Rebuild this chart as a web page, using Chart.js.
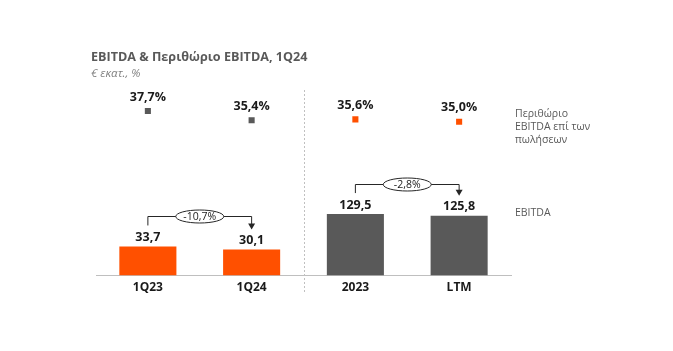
<!DOCTYPE html>
<html>
<head>
  <meta charset="UTF-8">
  <title>EBITDA & Περιθώριο EBITDA, 1Q24</title>
  <script src="https://cdn.jsdelivr.net/npm/chart.js@4.4.1/dist/chart.umd.min.js"></script>
  <style>
    body { margin: 0; background: #fff; font-family: "Open Sans", sans-serif; }
    #wrap { position: relative; width: 673px; height: 351px; }
    .txt { position: absolute; white-space: nowrap; }
    #title { left: 91px; top: 48px; font-size: 12.6px; font-weight: 700; color: #595959; }
    #sub { left: 91px; top: 65px; font-size: 11.5px; font-style: italic; color: #7f7f7f; }
    .side { left: 515px; font-size: 10.5px; color: #595959; line-height: 13px; }
  </style>
</head>
<body>
  <div id="wrap">
    <canvas id="ebitdaChart" width="673" height="351"></canvas>
    <div class="txt" id="title">EBITDA &amp; Περιθώριο EBITDA, 1Q24</div>
    <div class="txt" id="sub">€ εκατ., %</div>
    <div class="txt side" style="top:107px">Περιθώριο<br>EBITDA επί των<br>πωλήσεων</div>
    <div class="txt side" style="top:206px">EBITDA</div>
  </div>

  <script>
    const periods = ['1Q23', '1Q24', '2023', 'LTM'];
    const quarterEbitda = [33.7, 30.1, null, null];   // € εκατ.
    const annualEbitda = [null, null, 129.5, 125.8];  // € εκατ.
    const margins = [37.7, 35.4, 35.6, 35.0];         // %
    const changes = ['-10,7%', '-2,8%'];              // 1Q23→1Q24, 2023→LTM

    const ORANGE = '#ff5000';
    const GREY = '#595959';
    const fmt = v => v.toFixed(1).replace('.', ',');

    // labels, separator and change brackets
    const overlay = {
      id: 'overlay',
      afterDatasetsDraw(chart) {
        const ctx = chart.ctx;
        const x = chart.scales.x;
        const area = chart.chartArea;
        ctx.save();

        // dashed separator between quarters and years
        const sepX = Math.round((x.getPixelForValue(1) + x.getPixelForValue(2)) / 2) + 0.5;
        ctx.strokeStyle = '#c0c0c0';
        ctx.lineWidth = 1;
        ctx.setLineDash([2, 2]);
        ctx.beginPath();
        ctx.moveTo(sepX, area.top);
        ctx.lineTo(sepX, area.bottom + 17);
        ctx.stroke();
        ctx.setLineDash([]);

        ctx.textAlign = 'center';
        ctx.textBaseline = 'middle';
        ctx.fillStyle = '#1a1a1a';
        ctx.font = 'bold 12.5px "Open Sans"';

        // bar values
        const tops = [];
        [0, 1].forEach(di => {
          chart.getDatasetMeta(di).data.forEach((bar, i) => {
            const v = chart.data.datasets[di].data[i];
            if (v == null) return;
            tops[i] = bar.y;
            ctx.fillText(fmt(v), bar.x, bar.y - 9);
          });
        });

        // margin values
        chart.getDatasetMeta(2).data.forEach((pt, i) => {
          ctx.fillText(fmt(margins[i]) + '%', pt.x, pt.y - 14);
        });

        // change brackets
        [[0, 1], [2, 3]].forEach(([a, b], k) => {
          const xa = x.getPixelForValue(a), xb = x.getPixelForValue(b);
          const yTop = Math.round(Math.min(tops[a], tops[b]) - 30) + 0.5;
          ctx.strokeStyle = '#262626';
          ctx.lineWidth = 1;
          ctx.beginPath();
          ctx.moveTo(xa, tops[a] - 21);
          ctx.lineTo(xa, yTop);
          ctx.lineTo(xb, yTop);
          ctx.lineTo(xb, tops[b] - 25);
          ctx.stroke();
          ctx.fillStyle = '#262626';
          ctx.beginPath();
          ctx.moveTo(xb - 3.5, tops[b] - 26);
          ctx.lineTo(xb + 3.5, tops[b] - 26);
          ctx.lineTo(xb, tops[b] - 20);
          ctx.closePath();
          ctx.fill();

          const mx = (xa + xb) / 2;
          ctx.beginPath();
          ctx.ellipse(mx, yTop, 24, 6.5, 0, 0, Math.PI * 2);
          ctx.fillStyle = '#fff';
          ctx.fill();
          ctx.stroke();
          ctx.fillStyle = '#1a1a1a';
          ctx.font = '10.5px "Open Sans"';
          ctx.fillText(changes[k], mx, yTop + 0.5);
        });
        ctx.restore();
      }
    };

    new Chart(document.getElementById('ebitdaChart').getContext('2d'), {
      type: 'bar',
      data: {
        labels: periods,
        datasets: [
          {
            label: 'EBITDA',
            data: quarterEbitda,
            yAxisID: 'yQ',
            backgroundColor: ORANGE,
            grouped: false,
            categoryPercentage: 1,
            barPercentage: 0.55
          },
          {
            label: 'EBITDA',
            data: annualEbitda,
            yAxisID: 'yA',
            backgroundColor: GREY,
            grouped: false,
            categoryPercentage: 1,
            barPercentage: 0.55
          },
          {
            type: 'line',
            label: 'Περιθώριο EBITDA επί των πωλήσεων',
            data: margins,
            yAxisID: 'yM',
            showLine: false,
            pointStyle: 'rect',
            pointRadius: 4.3,
            pointBorderWidth: 0,
            pointBackgroundColor: [GREY, GREY, ORANGE, ORANGE]
          }
        ]
      },
      options: {
        responsive: false,
        animation: false,
        layout: { padding: { left: 96, right: 162, top: 90, bottom: 51 } },
        plugins: {
          legend: { display: false },
          tooltip: { enabled: false }
        },
        scales: {
          x: {
            grid: { display: false, drawTicks: false },
            border: { color: '#bfbfbf', width: 1 },
            ticks: { color: '#1a1a1a', font: { family: 'Open Sans', size: 12, weight: 'bold' }, padding: 5 }
          },
          yQ: { display: false, min: 0, max: 214.6 },
          yA: { display: false, min: 0, max: 390.6 },
          yM: { display: false, min: -3.7, max: 43 }
        }
      },
      plugins: [overlay]
    });
  </script>
</body>
</html>
